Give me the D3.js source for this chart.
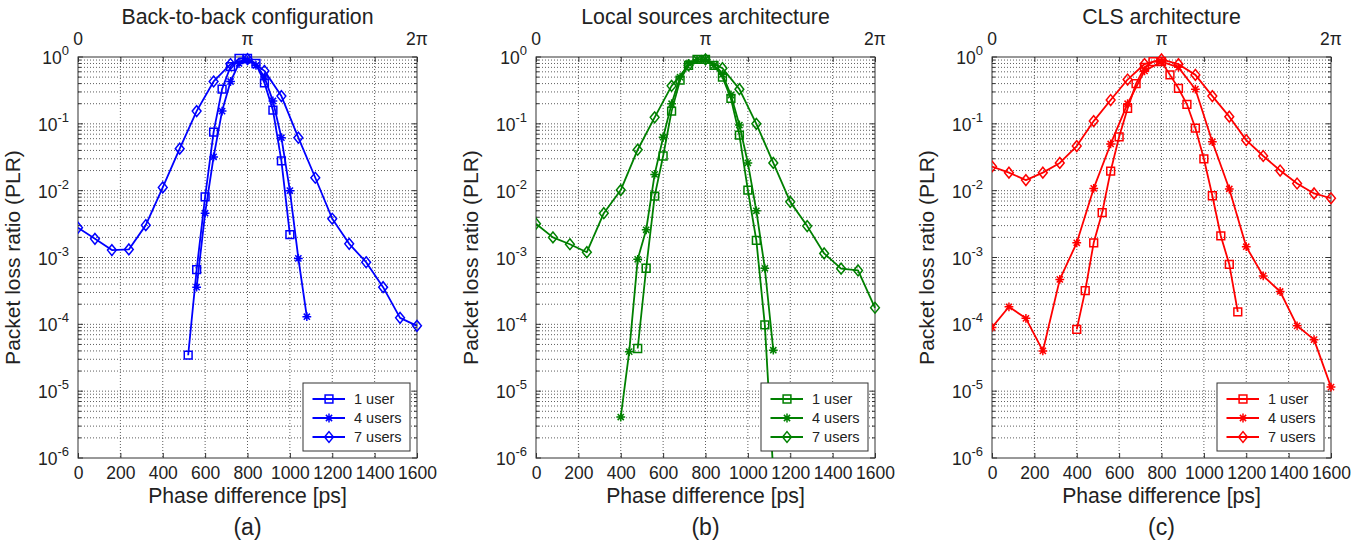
<!DOCTYPE html>
<html><head><meta charset="utf-8">
<script src="https://cdn.jsdelivr.net/npm/d3@7"></script>
<style>
body{margin:0;background:#fff}
text{font-family:"Liberation Sans",Arial,Helvetica,sans-serif;fill:#222}
</style>
</head><body>
<svg id="chart" width="1367" height="543"></svg>
<script>
// ---------- tick labels / categories ----------
const xTickValues = [0,200,400,600,800,1000,1200,1400,1600];
const yDecades = [0,-1,-2,-3,-4,-5,-6];
const topTickValues = [0,800,1600];
const topTickLabels = ["0","\u03c0","2\u03c0"];
const seriesNames = ["1 user","4 users","7 users"];
const panelTitles = ["Back-to-back configuration","Local sources architecture","CLS architecture"];
const panelTags = ["(a)","(b)","(c)"];
const xLabel = "Phase difference [ps]";
const yLabel = "Packet loss ratio (PLR)";

// ---------- panel (a) back-to-back ----------
const a1x = [520,560,600,640,680,720,760,800,840,880,920,960,1000];
const a1y = [3.45e-5,6.6e-4,8.1e-3,0.075,0.33,0.72,0.95,0.95,0.8,0.41,0.16,0.028,2.2e-3];
const a4x = [560,600,640,680,720,760,800,840,880,920,960,1000,1040,1080];
const a4y = [3.6e-4,4.6e-3,0.032,0.155,0.43,0.8,0.9,0.75,0.5,0.22,0.062,0.01,9.7e-4,1.3e-4];
const a7x = [0,80,160,240,320,400,480,560,640,720,800,880,960,1040,1120,1200,1280,1360,1440,1520,1600];
const a7y = [2.79e-3,1.9e-3,1.29e-3,1.32e-3,3.05e-3,1.12e-2,0.0425,0.155,0.43,0.785,0.93,0.62,0.26,0.062,0.0156,3.8e-3,1.6e-3,8.5e-4,3.6e-4,1.25e-4,9.5e-5];

// ---------- panel (b) local sources ----------
const b1x = [480,520,560,600,640,680,720,760,800,840,880,920,960,1000,1040,1080,1120];
const b1y = [4.35e-5,6.9e-4,8.3e-3,0.033,0.155,0.45,0.75,0.92,0.92,0.75,0.5,0.24,0.068,0.0102,1.8e-3,9.8e-5,6e-7];
const b4x = [400,440,480,520,560,600,640,680,720,760,800,840,880,920,960,1000,1040,1080,1120];
const b4y = [4.1e-6,3.9e-5,9.4e-4,2.6e-3,0.0175,0.063,0.2,0.5,0.8,0.92,0.92,0.75,0.55,0.27,0.096,0.026,5e-3,6.9e-4,4.1e-5];
const b7x = [0,80,160,240,320,400,480,560,640,720,800,880,960,1040,1120,1200,1280,1360,1440,1520,1600];
const b7y = [3.2e-3,2.0e-3,1.58e-3,1.2e-3,4.6e-3,1.02e-2,0.041,0.125,0.37,0.75,0.92,0.68,0.33,0.1,0.026,6.8e-3,2.95e-3,1.15e-3,6.8e-4,6.4e-4,1.77e-4];

// ---------- panel (c) CLS ----------
const c1x = [400,440,480,520,560,600,640,680,720,760,800,840,880,920,960,1000,1040,1080,1120,1160];
const c1y = [8.4e-5,3.2e-4,1.66e-3,4.7e-3,0.0196,0.064,0.17,0.40,0.7,0.85,0.85,0.54,0.34,0.196,0.086,0.030,8.4e-3,2.1e-3,7.9e-4,1.54e-4];
const c4x = [0,80,160,240,320,400,480,560,640,720,800,880,960,1040,1120,1200,1280,1360,1440,1520,1600];
const c4y = [9e-5,1.83e-4,1.23e-4,4e-5,4.7e-4,1.66e-3,0.0108,0.05,0.2,0.62,0.85,0.7,0.33,0.054,0.0106,1.45e-3,5.3e-4,3.1e-4,9.5e-5,5.9e-5,1.15e-5];
const c7x = [0,80,160,240,320,400,480,560,640,720,800,880,960,1040,1120,1200,1280,1360,1440,1520,1600];
const c7y = [0.023,0.0186,0.0144,0.0186,0.026,0.0465,0.11,0.227,0.46,0.785,0.92,0.78,0.54,0.26,0.128,0.057,0.033,0.020,0.0128,9.1e-3,7.7e-3];

const panels = [
  {series:[[a1x,a1y],[a4x,a4y],[a7x,a7y]], color:"#0000ff"},
  {series:[[b1x,b1y],[b4x,b4y],[b7x,b7y]], color:"#008000"},
  {series:[[c1x,c1y],[c4x,c4y],[c7x,c7y]], color:"#ff0000"}
];

// ---------- layout ----------
const lefts = [78,536,992];
const W = 339, TOP = 57, H = 401;
const svg = d3.select("#chart");

function markerPath(kind){
  if(kind===0){ const s=3.9; return `M${-s},${-s}H${s}V${s}H${-s}Z`; }
  if(kind===1){ const r=4.4, d=3.1; return `M${-r},0H${r}M0,${-r}V${r}M${-d},${-d}L${d},${d}M${-d},${d}L${d},${-d}`; }
  const w=4.4,h=5.4; return `M0,${-h}L${w},0L0,${h}L${-w},0Z`;
}

panels.forEach((p,pi)=>{
  const L = lefts[pi];
  const x = d3.scaleLinear().domain([0,1600]).range([L,L+W]);
  const y = d3.scaleLog().domain([1e-6,1]).range([TOP+H,TOP]);
  const g = svg.append("g");

  // grid
  const minor = [];
  for(let e=-6;e<0;e++) for(let k=1;k<10;k++) minor.push(k*Math.pow(10,e));
  const grid = g.append("g").attr("stroke","#333").attr("stroke-width",0.8).attr("stroke-dasharray","1,2").attr("fill","none");
  minor.filter(v=>v>1e-6 && v<1).forEach(v=>{
    grid.append("line").attr("x1",L).attr("x2",L+W).attr("y1",y(v)).attr("y2",y(v));
  });
  xTickValues.filter(v=>v>0&&v<1600).forEach(v=>{
    grid.append("line").attr("x1",x(v)).attr("x2",x(v)).attr("y1",TOP).attr("y2",TOP+H);
  });

  // axes via d3
  const bottom = g.append("g").attr("transform",`translate(0,${TOP+H})`)
    .call(d3.axisBottom(x).tickValues(xTickValues).tickFormat(d3.format("d")).tickSizeInner(-5).tickSizeOuter(0).tickPadding(9));
  bottom.select(".domain").remove();
  bottom.selectAll("line").attr("stroke","#333");
  bottom.selectAll("text").attr("font-size",17.5).attr("fill","#222").style("font-family","Liberation Sans, Arial, sans-serif");
  const topAx = g.append("g").attr("transform",`translate(0,${TOP})`)
    .call(d3.axisTop(x).tickValues(xTickValues).tickSizeInner(-5).tickSizeOuter(0).tickFormat(""));
  topAx.select(".domain").remove();
  topAx.selectAll("line").attr("stroke","#333");
  topTickValues.forEach((v,i)=>{
    g.append("text").attr("x",x(v)).attr("y",45).attr("text-anchor","middle").attr("font-size",17.5).text(topTickLabels[i]);
  });
  // y ticks (major + minor) left and right
  const minorAll = minor.filter(v=>v>1e-6 && v<1 && Math.abs(Math.log10(v)-Math.round(Math.log10(v)))>1e-6);
  [[L,1],[L+W,-1]].forEach(([xx,dir])=>{
    yDecades.forEach(e=>{
      g.append("line").attr("x1",xx).attr("x2",xx+dir*5).attr("y1",y(Math.pow(10,e))).attr("y2",y(Math.pow(10,e))).attr("stroke","#333");
    });
    minorAll.forEach(v=>{
      g.append("line").attr("x1",xx).attr("x2",xx+dir*3).attr("y1",y(v)).attr("y2",y(v)).attr("stroke","#333");
    });
  });
  yDecades.forEach(e=>{
    const t = g.append("text").attr("x",L-9).attr("y",y(Math.pow(10,e))+7).attr("text-anchor","end").attr("font-size",17.5);
    t.append("tspan").text("10");
    t.append("tspan").attr("dy",-9).attr("font-size",13).text(String(e));
  });

  // box
  g.append("rect").attr("x",L).attr("y",TOP).attr("width",W).attr("height",H)
    .attr("fill","none").attr("stroke","#333").attr("stroke-width",1);

  // clip
  const cid = "clip"+pi;
  svg.append("clipPath").attr("id",cid).append("rect").attr("x",L).attr("y",TOP-6).attr("width",W+6).attr("height",H+6);

  const line = d3.line().x(d=>x(d[0])).y(d=>y(d[1]));
  const dataG = g.append("g").attr("clip-path",`url(#${cid})`);
  p.series.forEach(([xs,ys],si)=>{
    const pts = xs.map((v,i)=>[v,ys[i]]);
    dataG.append("path").datum(pts).attr("d",line).attr("fill","none")
      .attr("stroke",p.color).attr("stroke-width",1.8).attr("stroke-linejoin","round");
    dataG.selectAll(null).data(pts).enter().append("path")
      .attr("transform",d=>`translate(${x(d[0])},${y(d[1])})`)
      .attr("d",markerPath(si)).attr("fill","none").attr("stroke",p.color).attr("stroke-width",1.5);
  });

  // legend
  const lx = L+225, ly = 383;
  g.append("rect").attr("x",lx).attr("y",ly).attr("width",107).attr("height",68)
    .attr("fill","#fff").attr("stroke","#333").attr("stroke-width",1);
  seriesNames.forEach((n,i)=>{
    const yy = ly+16+i*19;
    g.append("line").attr("x1",lx+9.5).attr("x2",lx+42).attr("y1",yy).attr("y2",yy).attr("stroke",p.color).attr("stroke-width",1.8);
    g.append("path").attr("transform",`translate(${lx+26},${yy})`).attr("d",markerPath(i))
      .attr("fill","none").attr("stroke",p.color).attr("stroke-width",1.5);
    g.append("text").attr("x",lx+51).attr("y",yy+5).attr("font-size",14.5).text(n);
  });

  // titles / labels
  g.append("text").attr("x",L+W/2).attr("y",24).attr("text-anchor","middle").attr("font-size",21.3).text(panelTitles[pi]);
  g.append("text").attr("x",L+W/2).attr("y",503).attr("text-anchor","middle").attr("font-size",21.2).text(xLabel);
  g.append("text").attr("x",L+W/2).attr("y",535).attr("text-anchor","middle").attr("font-size",23).text(panelTags[pi]);
  g.append("text").attr("transform",`translate(${L-58},${TOP+H/2}) rotate(-90)`).attr("text-anchor","middle")
    .attr("font-size",21).text(yLabel);
});
</script>
</body></html>
